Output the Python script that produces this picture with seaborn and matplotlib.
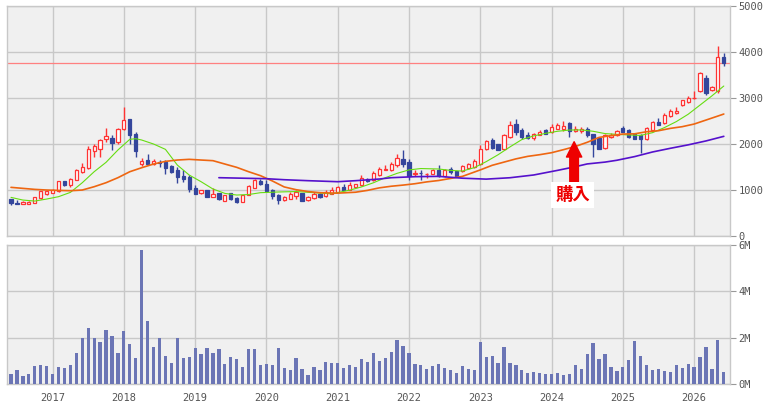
import matplotlib
matplotlib.use("Agg")
import numpy as np
import pandas as pd
import matplotlib.pyplot as plt
import seaborn as sns

# ================= DATA (monthly, Jun 2016 - Jun 2026) =================

months = pd.date_range("2016-06-01", periods=121, freq="MS")

open_ = [790, 710, 688, 688, 710, 811, 906, 935, 964, 1181,
         1094, 1210, 1391, 1471, 1848, 1877, 2109, 2131, 2044, 2320,
         2530, 2203, 1551, 1645, 1558, 1602, 1602, 1522, 1428, 1305,
         1283, 1036, 920, 993, 848, 920, 760, 920, 819, 739,
         884, 1043, 1181, 1116, 985, 877, 768, 797, 870, 928,
         768, 819, 899, 855, 913, 949, 1058, 1000, 1058, 1094,
         1240, 1203, 1312, 1435, 1420, 1529, 1674, 1609, 1334, 1370,
         1334, 1348, 1420, 1297, 1442, 1398, 1398, 1471, 1493, 1565,
         1877, 2073, 1985, 1877, 2145, 2420, 2305, 2196, 2130, 2196,
         2290, 2254, 2326, 2326, 2442, 2283, 2283, 2310, 2203, 2116,
         1898, 2137, 2188, 2333, 2297, 2210, 2188, 2100, 2297, 2478,
         2442, 2601, 2659, 2833, 2906, 2985, 3152, 3420, 3167, 3152,
         3877]
high = [805, 775, 745, 750, 850, 975, 985, 1015, 1195, 1195,
        1250, 1450, 1580, 1960, 1993, 2110, 2341, 2190, 2350, 2798,
        2540, 2250, 1680, 1776, 1660, 1645, 1645, 1530, 1500, 1428,
        1326, 1100, 1000, 1000, 1029, 935, 890, 935, 840, 890,
        1095, 1230, 1240, 1200, 1020, 900, 862, 960, 1000, 935,
        870, 950, 920, 1000, 1050, 1080, 1130, 1160, 1130, 1320,
        1260, 1400, 1500, 1530, 1600, 1780, 1855, 1674, 1420, 1420,
        1360, 1440, 1530, 1440, 1490, 1410, 1530, 1580, 1660, 1964,
        2080, 2130, 2000, 2200, 2500, 2544, 2340, 2250, 2240, 2290,
        2330, 2420, 2440, 2500, 2471, 2380, 2355, 2360, 2210, 2130,
        2203, 2230, 2300, 2380, 2320, 2240, 2210, 2360, 2500, 2550,
        2660, 2750, 2790, 2960, 3030, 3145, 3550, 3493, 3260, 4124,
        3979]
low = [670, 680, 680, 680, 700, 800, 895, 925, 955, 1090,
       1060, 1200, 1370, 1460, 1718, 1700, 2044, 1870, 1990, 2300,
       1993, 1710, 1520, 1536, 1536, 1500, 1340, 1370, 1152, 1160,
       950, 900, 910, 845, 845, 780, 755, 780, 710, 735,
       880, 1040, 1094, 965, 804, 681, 753, 790, 800, 755,
       760, 800, 830, 840, 900, 940, 990, 990, 1050, 1080,
       1160, 1190, 1300, 1420, 1400, 1500, 1490, 1203, 1290, 1203,
       1250, 1340, 1280, 1275, 1348, 1290, 1390, 1460, 1480, 1529,
       1860, 1890, 1860, 1860, 2130, 2181, 2110, 2100, 2080, 2180,
       2200, 2240, 2310, 2280, 2145, 2260, 2240, 2150, 1702, 1880,
       1877, 2130, 2170, 2250, 2130, 2100, 1789, 2090, 2290, 2400,
       2430, 2590, 2650, 2820, 2880, 2980, 3130, 3058, 3140, 3109,
       3689]
close = [700, 695, 739, 739, 840, 964, 978, 1000, 1181, 1094,
         1239, 1435, 1500, 1885, 1950, 2087, 2167, 2007, 2320, 2515,
         2182, 1848, 1630, 1558, 1616, 1580, 1478, 1384, 1283, 1232,
         1015, 906, 993, 850, 906, 790, 884, 790, 732, 884,
         1080, 1210, 1116, 971, 855, 783, 840, 913, 950, 760,
         840, 899, 840, 957, 985, 1058, 1000, 1094, 1116, 1246,
         1181, 1362, 1457, 1450, 1558, 1696, 1565, 1290, 1362, 1355,
         1348, 1435, 1290, 1420, 1384, 1297, 1514, 1565, 1616, 1877,
         2051, 1913, 1870, 2181, 2399, 2254, 2145, 2123, 2217, 2254,
         2217, 2362, 2399, 2384, 2283, 2326, 2326, 2185, 1992, 1891,
         2188, 2188, 2282, 2260, 2137, 2108, 2100, 2333, 2478, 2405,
         2623, 2717, 2717, 2949, 2993, 3000, 3529, 3094, 3225, 3877,
         3747]

# volume in millions of shares
volume = [0.44, 0.61, 0.35, 0.44, 0.78, 0.82, 0.78, 0.44, 0.74, 0.70,
          0.82, 1.33, 1.97, 2.40, 2.01, 1.80, 2.35, 2.06, 1.33, 2.27,
          1.72, 1.12, 5.76, 2.70, 1.59, 2.01, 1.21, 0.91, 1.97, 1.12,
          1.16, 1.55, 1.29, 1.55, 1.33, 1.50, 0.87, 1.16, 1.08, 0.74,
          1.50, 1.50, 0.82, 0.87, 0.82, 1.55, 0.70, 0.61, 1.12, 0.65,
          0.40, 0.74, 0.61, 0.95, 0.91, 0.91, 0.70, 0.82, 0.74, 1.08,
          0.95, 1.33, 0.99, 1.12, 1.38, 1.89, 1.63, 1.33, 0.87, 0.82,
          0.65, 0.78, 0.87, 0.70, 0.61, 0.48, 0.78, 0.65, 0.61, 1.80,
          1.16, 1.21, 0.91, 1.59, 0.91, 0.82, 0.61, 0.48, 0.52, 0.48,
          0.44, 0.44, 0.48, 0.40, 0.44, 0.82, 0.65, 1.29, 1.76, 1.08,
          1.29, 0.74, 0.57, 0.74, 1.04, 1.84, 1.21, 0.82, 0.61, 0.65,
          0.57, 0.52, 0.82, 0.70, 0.87, 0.74, 1.16, 1.59, 0.65, 1.89,
          0.52]

# moving averages (month index, value)
ma_short_idx = [0, 2, 4, 6, 8, 10, 12, 14, 16, 18, 20, 21, 22, 24, 26, 28, 30, 32,
                34, 36, 38, 40, 42, 45, 48, 51, 54, 57, 59, 61, 63, 65, 67, 69, 72,
                74, 76, 78, 80, 82, 84, 86, 88, 90, 92, 94, 96, 98, 100, 102, 104,
                106, 108, 110, 112, 114, 116, 118, 120]
ma_short_val = [833, 775, 753, 797, 848, 942, 1152, 1391, 1595, 1863, 2095, 2109, 2080,
                1993, 1877, 1536, 1319, 1174, 1015, 920, 884, 895, 935, 950, 960, 935,
                910, 990, 1060, 1150, 1260, 1356, 1430, 1460, 1450, 1420, 1405, 1480,
                1610, 1760, 1930, 2090, 2170, 2225, 2270, 2297, 2300, 2270, 2220, 2203,
                2190, 2180, 2240, 2350, 2480, 2640, 2840, 3040, 3254]

ma_mid_idx = [0, 2, 4, 6, 8, 10, 12, 14, 16, 18, 20, 22, 24, 26, 28, 30, 32, 34, 36,
              38, 40, 42, 44, 46, 48, 50, 52, 55, 58, 60, 62, 64, 66, 68, 70, 72, 74,
              76, 79, 81, 83, 85, 87, 89, 91, 93, 95, 97, 99, 101, 103, 105, 107, 109,
              111, 113, 115, 117, 119, 120]
ma_mid_val = [1051, 1029, 1007, 993, 985, 978, 993, 1065, 1152, 1261, 1391, 1478, 1558,
              1616, 1645, 1660, 1645, 1631, 1558, 1486, 1391, 1305, 1190, 1060, 1000,
              960, 935, 925, 945, 985, 1040, 1075, 1100, 1130, 1170, 1200, 1245, 1290,
              1430, 1530, 1600, 1670, 1725, 1761, 1804, 1870, 1940, 2030, 2137, 2174,
              2210, 2215, 2260, 2282, 2333, 2370, 2427, 2514, 2601, 2645]

ma_long_idx = [35, 43, 46, 50, 55, 58, 62, 64, 68, 72, 76, 80, 84, 88, 92, 95, 97,
               100, 102, 105, 108, 111, 114, 117, 120]
ma_long_val = [1261, 1239, 1217, 1196, 1174, 1196, 1232, 1261, 1283, 1290, 1250, 1230,
               1260, 1320, 1420, 1500, 1560, 1600, 1640, 1720, 1820, 1900, 1975, 2060,
               2160]

current_price = 3760
buy_idx = 94.8
buy_price = 2043

# ================= STYLE =================

sns.set_style("whitegrid")
plt.rcParams["font.family"] = ["DejaVu Sans Mono", "DejaVu Sans"]

RED = "#ff3333"
BLUE = "#34469c"
VOL = "#6b75b5"
GRID = "#c8c8c8"
BG = "#f0f0f0"
TXT = "#555555"

W, H = 764, 403
x0, x1 = 7.3, 730
step = 5.94
off = 11.0
xlim = ((x0 - off) / step, (x1 - off) / step)

fig = plt.figure(figsize=(W / 100, H / 100), dpi=100)
ax1 = fig.add_axes([x0 / W, 1 - 235.7 / H, (x1 - x0) / W, (235.7 - 5.7) / H])
ax2 = fig.add_axes([x0 / W, 1 - 384.3 / H, (x1 - x0) / W, (384.3 - 244.7) / H])

idx = np.arange(len(months))
year_idx = [i for i, m in enumerate(months) if m.month == 1]
year_lab = [str(months[i].year) for i in year_idx]

# ================= PRICE PANEL =================

o = np.array(open_)
c = np.array(close)
up = c >= o
colors = np.where(up, RED, BLUE)

ax1.vlines(idx, low, high, colors=colors, linewidth=1.0, zorder=3)
ax1.bar(idx, np.abs(c - o), bottom=np.minimum(o, c), width=0.55,
        color=np.where(up, "white", BLUE), edgecolor=colors,
        linewidth=0.9, zorder=4)

ma = pd.DataFrame({"idx": ma_short_idx, "val": ma_short_val})
sns.lineplot(data=ma, x="idx", y="val", ax=ax1, color="#66dd11", linewidth=0.8, zorder=5)
ma = pd.DataFrame({"idx": ma_mid_idx, "val": ma_mid_val})
sns.lineplot(data=ma, x="idx", y="val", ax=ax1, color="#ee6611", linewidth=1.2, zorder=5)
ma = pd.DataFrame({"idx": ma_long_idx, "val": ma_long_val})
sns.lineplot(data=ma, x="idx", y="val", ax=ax1, color="#5511cc", linewidth=1.2, zorder=5)

ax1.axhline(current_price, color="#ff8080", linewidth=0.9, zorder=2)

ax1.annotate("", xy=(buy_idx, buy_price), xytext=(buy_idx, 1174),
             arrowprops=dict(arrowstyle="simple,head_length=1.1,head_width=1.1,tail_width=0.62",
                             color="#ee0000", mutation_scale=10, shrinkA=0, shrinkB=0),
             zorder=7)
ax1.text(94.6, 891, "購入", color="#ee0000", fontsize=12.5, fontweight="bold",
         family=["Noto Sans CJK JP", "DejaVu Sans"], ha="center", va="center",
         bbox=dict(facecolor="white", edgecolor="none", pad=3), zorder=8)

ax1.set_ylim(0, 5000)
ax1.set_yticks([0, 1000, 2000, 3000, 4000, 5000])
ax1.set_yticklabels(["0", "1000", "2000", "3000", "4000", "5000"])

# ================= VOLUME PANEL =================

vol = pd.DataFrame({"idx": idx, "vol": volume})
sns.barplot(data=vol, x="idx", y="vol", ax=ax2, color=VOL, saturation=1,
            width=0.55, linewidth=0, edgecolor="none", zorder=3)
ax2.set_ylim(0, 6)
ax2.set_yticks([0, 2, 4, 6])
ax2.set_yticklabels(["0M", "2M", "4M", "6M"])

# ================= AXES FORMAT =================

for ax in (ax1, ax2):
    ax.set_facecolor(BG)
    ax.set_xlim(*xlim)
    ax.set_xlabel("")
    ax.set_ylabel("")
    ax.grid(True, color=GRID, linewidth=1.0)
    ax.set_axisbelow(True)
    for s in ax.spines.values():
        s.set_color(GRID)
        s.set_linewidth(1.0)
    ax.yaxis.tick_right()
    ax.tick_params(axis="y", which="both", right=True, left=False, length=4,
                   color="#999999", labelsize=7.5, labelcolor=TXT, pad=2)
    ax.set_xticks(year_idx)
    ax.xaxis.grid(True, color=GRID, linewidth=1.0)

ax1.tick_params(axis="x", length=0, labelbottom=False)
ax2.set_xticklabels(year_lab)
ax2.tick_params(axis="x", length=0, labelsize=7.5, labelcolor=TXT, pad=6)

fig.savefig("out.png", dpi=100, facecolor="white")
